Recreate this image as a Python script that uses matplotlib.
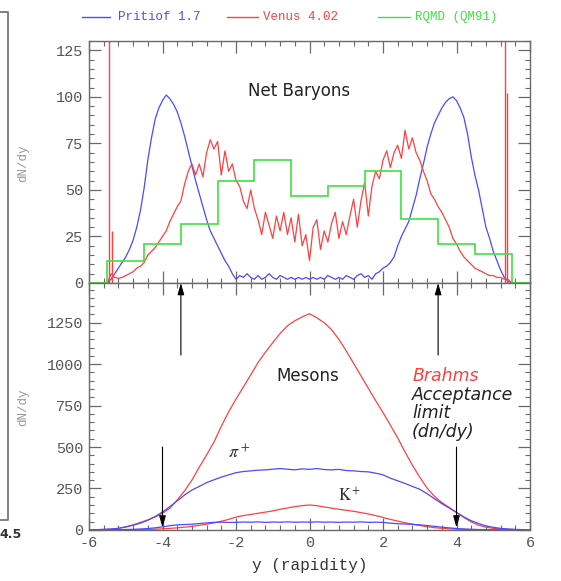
import numpy as np
import matplotlib
matplotlib.use("Agg")
import matplotlib.pyplot as plt
from matplotlib.lines import Line2D
from matplotlib.ticker import MultipleLocator

plt.rcParams['axes.unicode_minus'] = False

# ---------------- data ----------------
# fine rapidity grid (top panel) and coarse grid (bottom panel)
y_fine = np.round(np.arange(-6.0, 6.001, 0.1), 1)
y_coarse = np.round(np.arange(-6.0, 6.001, 0.2), 1)

# Net baryons, Venus 4.02 (red), -6.0 .. 6.0 step 0.1
venus_baryons = [0, 0, 0, 0, 0, 0,
                 5, 3, 2.5, 3, 4, 5, 6, 8, 9, 11,
                 15, 17, 19, 22, 25, 28, 33, 37, 41, 44,
                 53, 60, 64, 58, 64, 57, 70, 77, 72, 76,
                 58, 71, 60, 64, 55, 52, 44, 40, 50, 40,
                 34, 26, 38, 31, 24, 36, 28, 38, 26, 35,
                 22, 37, 20, 26, 12, 30, 34, 18, 28, 22,
                 32, 38, 24, 33, 26, 36, 45, 30, 44, 54,
                 36, 52, 60, 56, 66, 71, 62, 70, 74, 67,
                 82, 72, 78, 70, 66, 60, 55, 48, 45, 41,
                 38, 34, 30, 24, 21, 17, 14, 12, 10, 8,
                 7, 6, 5, 4, 4, 3, 3, 2, 2,
                 0, 0, 0, 0, 0, 0]
# Venus beam-remnant spikes
venus_spike_y = [-5.45, -5.37, 5.31, 5.37]
venus_spike_h = [140, 28, 140, 102]

# Net baryons, Fritiof 1.7 (blue), -6.0 .. 6.0 step 0.1
fritiof_baryons = [0, 0, 0, 0, 0, 0,
                   2, 5, 8, 11, 14, 18, 23, 30, 39, 51,
                   66, 78, 88, 94, 98, 101, 99, 96, 92, 86,
                   79, 71, 63, 55, 48, 41, 34, 28, 24, 20,
                   16, 12, 9, 5, 2, 4, 3, 5, 3, 2,
                   4, 2, 3, 5, 3, 2, 4, 3, 2, 3,
                   2, 3, 2, 3, 2, 3, 2, 3, 2, 4,
                   3, 2, 3, 2, 4, 3, 2, 4, 5, 3,
                   4, 2, 5, 6, 8, 9, 11, 14, 20, 25,
                   29, 33, 40, 47, 56, 64, 73, 80, 86, 90,
                   94, 97, 99, 100, 98, 94, 89, 80, 68, 58,
                   50, 40, 30, 24, 17, 12, 7, 3, 1,
                   0, 0, 0, 0, 0, 0]

# Net baryons, RQMD (QM91) histogram (green)
rqmd_edges = [-6, -5.5, -4.5, -3.5, -2.5, -1.5, -0.5, 0.5, 1.5, 2.5, 3.5, 4.5, 5.5, 6]
rqmd_baryons = [0, 12, 20.7, 31.5, 55, 66, 46.7, 52, 60, 34.3, 20.7, 15.4, 0]

# Mesons, -6.0 .. 6.0 step 0.2
venus_pi = [0, 1, 2, 4, 9, 18, 30, 45, 60, 78,
            100, 130, 180, 235, 300, 378, 452, 530, 625, 712,
            790, 862, 935, 1010, 1072, 1130, 1185, 1232, 1262, 1285,
            1305,
            1280, 1250, 1208, 1150, 1080, 1005, 930, 855, 780, 708,
            632, 555, 470, 390, 318, 252, 202, 165, 135, 105,
            75, 48, 28, 16, 9, 5, 3, 1, 0, 0]
fritiof_pi = [0, 1, 3, 5, 9, 17, 28, 40, 58, 80,
              108, 140, 175, 210, 240, 262, 285, 302, 318, 332,
              345, 352, 356, 360, 362, 366, 370, 366, 362, 368,
              365,
              370, 364, 362, 365, 358, 356, 352, 350, 342, 332,
              312, 296, 280, 262, 245, 218, 188, 158, 132, 105,
              78, 55, 38, 24, 15, 9, 5, 3, 1, 0]
venus_k = [0, 0, 0, 0, 0, 1, 1, 1, 2, 4,
           6, 9, 12, 16, 21, 27, 34, 42, 52, 63,
           77, 86, 93, 100, 107, 114, 124, 132, 140, 146,
           150,
           146, 138, 131, 124, 118, 112, 104, 96, 86, 75,
           63, 53, 43, 34, 26, 19, 13, 9, 6, 4,
           3, 2, 1, 0, 0, 0, 0, 0, 0, 0]
fritiof_k = [0, 0, 0, 1, 1, 2, 3, 5, 8, 12,
             18, 25, 30, 32, 34, 38, 42, 45, 46, 45,
             45, 47, 46, 48, 45, 47, 46, 48, 46, 47,
             46,
             48, 46, 47, 45, 47, 46, 48, 45, 46, 45,
             40, 37, 35, 33, 30, 26, 21, 16, 12, 8,
             5, 3, 2, 1, 0, 0, 0, 0, 0, 0]

legend_labels = ["Pritiof 1.7", "Venus 4.02", "RQMD (QM91)"]
x_ticks = [-6, -4, -2, 0, 2, 4, 6]
top_yticks = [0, 25, 50, 75, 100, 125]
bot_yticks = [0, 250, 500, 750, 1000, 1250]
acceptance_limit = [-4, 4]
acceptance_up = [-3.5, 3.5]

# ---------------- style ----------------
BLUE = '#4a4aff'
RED = '#ff4040'
GREEN = '#40e040'
SP = '#6a6a6a'
MONO = 'Liberation Mono'

W, H = 561, 581
fig = plt.figure(figsize=(W / 100, H / 100), dpi=100)

def fx(px):
    return px / W

def fy(py):
    return 1 - py / H

ax1 = fig.add_axes([fx(89), fy(283), fx(530) - fx(89), fy(41) - fy(283)])
ax2 = fig.add_axes([fx(89), fy(530), fx(530) - fx(89), fy(283) - fy(530)])

for ax in (ax1, ax2):
    ax.set_xlim(-6, 6)
    for s in ax.spines.values():
        s.set_color(SP)
        s.set_linewidth(1.0)
    ax.xaxis.set_major_locator(MultipleLocator(2))
    ax.xaxis.set_minor_locator(MultipleLocator(0.4))
    ax.tick_params(which='major', direction='in', length=8.6, width=0.9,
                   color=SP, top=True, right=True, labelsize=11,
                   labelcolor='#555555', pad=4)
    ax.tick_params(which='minor', direction='in', length=3.6, width=0.8,
                   color=SP, top=True, right=True)
    ax.set_facecolor('white')
    for lab in ax.get_xticklabels() + ax.get_yticklabels():
        lab.set_fontfamily(MONO)

# ---- top panel: net baryons ----
ax1.set_ylim(0, 130)
ax1.set_yticks(top_yticks)
ax1.yaxis.set_minor_locator(MultipleLocator(5))
ax1.tick_params(labelbottom=False)
ax1.plot(y_fine, fritiof_baryons, color=BLUE, lw=0.9)
ax1.plot(y_fine, venus_baryons, color=RED, lw=0.9)
ax1.vlines(venus_spike_y, 0, venus_spike_h, color=RED, lw=1.0)
ax1.stairs(rqmd_baryons, rqmd_edges, color=GREEN, lw=1.2, zorder=3, clip_on=False)
ax1.text(-0.28, 103, "Net Baryons", ha='center', va='center', fontsize=12,
         color='#222222', family='DejaVu Sans')

# ---- bottom panel: mesons ----
ax2.set_ylim(-1, 1490)
ax2.set_yticks(bot_yticks)
ax2.yaxis.set_minor_locator(MultipleLocator(50))
ax2.set_xticks(x_ticks)
ax2.plot(y_coarse, venus_pi, color=RED, lw=0.9)
ax2.plot(y_coarse, fritiof_pi, color=BLUE, lw=0.9)
ax2.plot(y_coarse, venus_k, color=RED, lw=0.9)
ax2.plot(y_coarse, fritiof_k, color=BLUE, lw=0.9)
for lab in ax2.get_xticklabels() + ax2.get_yticklabels() + ax1.get_yticklabels():
    lab.set_fontfamily(MONO)
ax2.set_xlabel("y (rapidity)", fontsize=11.5, family=MONO, color='#333333', labelpad=6)

ax2.text(-0.06, 930, "Mesons", ha='center', va='center', fontsize=12,
         color='#222222', family='DejaVu Sans')
ax2.text(-2.21, 462, r"$\pi^+$", ha='left', va='center', fontsize=13,
         color='#333333', math_fontfamily='stix')
ax2.text(0.78, 205, r"$\mathrm{K}^+$", ha='left', va='center', fontsize=12,
         color='#333333', math_fontfamily='stix')
ax2.text(2.79, 928, "Brahms", ha='left', va='center', fontsize=12.5,
         style='italic', color=RED, family='DejaVu Sans')
for txt, yv in (("Acceptance", 813), ("limit", 705), ("(dn/dy)", 592)):
    ax2.text(2.79, yv, txt, ha='left', va='center', fontsize=12.5,
             style='italic', color='#222222', family='DejaVu Sans')

arrow_kw = dict(arrowstyle='-|>,head_length=0.7,head_width=0.2', color='black',
                lw=0.8, mutation_scale=10, shrinkA=0, shrinkB=0)
for xv in acceptance_up:
    ax2.annotate('', xy=(xv, 1490), xytext=(xv, 1055), arrowprops=arrow_kw,
                 annotation_clip=False)
for xv in acceptance_limit:
    ax2.annotate('', xy=(xv, 14), xytext=(xv, 500), arrowprops=arrow_kw,
                 annotation_clip=False)

# ---- legend across the top ----
leg_colors = [BLUE, RED, GREEN]
leg_line = [(82, 110), (227, 258), (378, 410)]
leg_text = [118, 263, 415]
for lab, c, (a, b), tx in zip(legend_labels, leg_colors, leg_line, leg_text):
    fig.add_artist(Line2D([fx(a), fx(b)], [fy(17), fy(17)], transform=fig.transFigure,
                          color=c, lw=1.0))
    fig.text(fx(tx), fy(17), lab, ha='left', va='center', fontsize=9, family=MONO, color=c)

# ---- partial neighbouring frame and axis titles ----
fig.add_artist(Line2D([fx(0), fx(8), fx(8), fx(0)], [fy(12), fy(12), fy(520), fy(520)],
                      transform=fig.transFigure, color='#777777', lw=1.3))
fig.text(fx(-1), fy(534), "4.5", ha='left', va='center', fontsize=9,
         fontweight='bold', color='#333333', family='DejaVu Sans')
for yc in (163, 407):
    fig.text(fx(23), fy(yc), "dN/dy", rotation=90, ha='center', va='center',
             fontsize=9, color='#999999', family=MONO)

fig.savefig("out.png", dpi=100)
